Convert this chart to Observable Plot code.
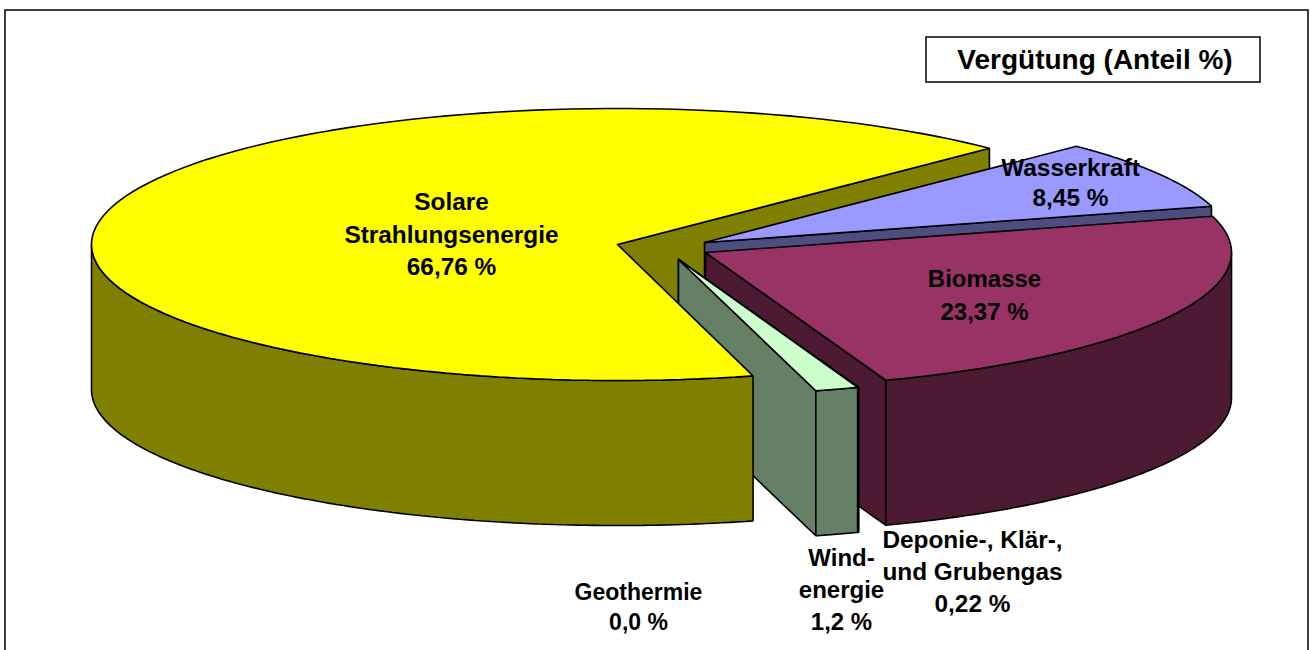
<!DOCTYPE html>
<html><head><meta charset="utf-8">
<style>html,body{margin:0;padding:0;background:#fff}svg{display:block}</style>
<script src="https://cdn.jsdelivr.net/npm/d3@7"></script>
<script src="https://cdn.jsdelivr.net/npm/@observablehq/plot@0.6"></script>
</head><body><div id="c"></div>
<script>
// data, in the order the slices run counter-clockwise around the pie
const categories = ["Solare Strahlungsenergie","Geothermie","Windenergie","Deponie-, Klär-, und Grubengas","Biomasse","Wasserkraft"];
const shares = [66.76, 0.0, 1.2, 0.22, 23.37, 8.45];
const sliceLabels = ["Solare\nStrahlungsenergie\n66,76 %","Geothermie\n0,0 %","Wind-\nenergie\n1,2 %","Deponie-, Klär-,\nund Grubengas\n0,22 %","Biomasse\n23,37 %","Wasserkraft\n8,45 %"];
const chartTitle = "Vergütung (Anteil %)";
// styles
const topColors = ["#ffff00","#ccffff","#ccffcc","#ccffcc","#993366","#9999ff"];
const sideColors = ["#808000","#668080","#668066","#668066","#4d1a33","#4d4d80"];
// layout of the exploded 3-D pie
const W = 1311, H = 650, RX = 526, RY = 136, DEPTH = 145, START = 45;
const hubs = [[617,244],[678,259],[678,259],[678,259],[705,252],[704,242]];
// small drawn-angle offsets (degrees) for the reference's 3-D foreshortening
const edgeNudge = [-0.4, -0.2, 0.25, -0.4, 0.9, 0];
const labelAt = [[451,232],[638,605],[841,587.5],[972,569],[984,292],[1070,181]];
const labelSize = [24.4,23,24,24.4,24,24.4];
const labelLead = [32.5,29.5,32,32,33,30];

const rad = d => d * Math.PI / 180;
let acc = START, prevEdge = START;
const slices = shares.map((v, i) => {
  acc += v / 100 * 360;
  const a0 = prevEdge, a1 = acc + edgeNudge[i];
  prevEdge = a1;
  return {i, hub: hubs[i], a0, a1};
});
const rim = (s, a, dz = 0) => ({x: s.hub[0] + RX * Math.cos(rad(a)), y: s.hub[1] - RY * Math.sin(rad(a)) + dz});
const arc = (s, from, to, dz = 0) => d3.range(0, 121).map(k => rim(s, from + (to - from) * k / 120, dz));
const hub = (s, dz = 0) => ({x: s.hub[0], y: s.hub[1] + dz});
const close = p => [...p, p[0]];
const poly = (pts, fill) => Plot.line(close(pts), {x: "x", y: "y", fill, stroke: "#000", strokeWidth: 1.6, strokeLinejoin: "miter", curve: "linear"});

const topFace = s => poly([hub(s), ...arc(s, s.a0, s.a1)], topColors[s.i]);
const cutFace = (s, a) => poly([hub(s), rim(s, a), rim(s, a, DEPTH), hub(s, DEPTH)], sideColors[s.i]);
const wall = (s, from, to) => poly([...arc(s, from, to), ...arc(s, to, from, DEPTH)], sideColors[s.i]);

const [solar, , wind, dep, bio, water] = slices;
const marks = [
  Plot.rect([{x1: 5, x2: 1308, y1: 10, y2: 660}], {x1: "x1", x2: "x2", y1: "y1", y2: "y2", fill: "#fff", stroke: "#000", strokeWidth: 1.5}),
  cutFace(solar, solar.a0),
  cutFace(water, water.a0), topFace(water),
  cutFace(bio, bio.a0), wall(bio, bio.a0, 360), topFace(bio),
  cutFace(dep, dep.a0), wall(dep, dep.a0, dep.a1), topFace(dep),
  cutFace(wind, wind.a0), wall(wind, wind.a0, wind.a1), topFace(wind),
  wall(solar, 180, solar.a1), topFace(solar),
  Plot.rect([{x1: 926, x2: 1260, y1: 37, y2: 82}], {x1: "x1", x2: "x2", y1: "y1", y2: "y2", fill: "#fff", stroke: "#000", strokeWidth: 1.5}),
  Plot.text([chartTitle], {x: () => 1094.5, y: () => 60, text: d => d, fontSize: 28, fontWeight: "bold", fill: "#000"}),
  ...sliceLabels.map((label, i) => Plot.text([label], {x: () => labelAt[i][0], y: () => labelAt[i][1], text: d => d, fontSize: labelSize[i], fontWeight: "bold", fill: "#000", lineHeight: labelLead[i] / labelSize[i]}))
];
const chart = Plot.plot({
  width: W, height: H, margin: 0,
  style: {fontFamily: "'Liberation Sans', Arial, sans-serif", background: "#fff", overflow: "hidden"},
  x: {type: "linear", domain: [0, W], range: [0, W], axis: null},
  y: {type: "linear", domain: [0, H], range: [0, H], axis: null},
  marks
});
document.getElementById("c").append(chart);
</script></body></html>
